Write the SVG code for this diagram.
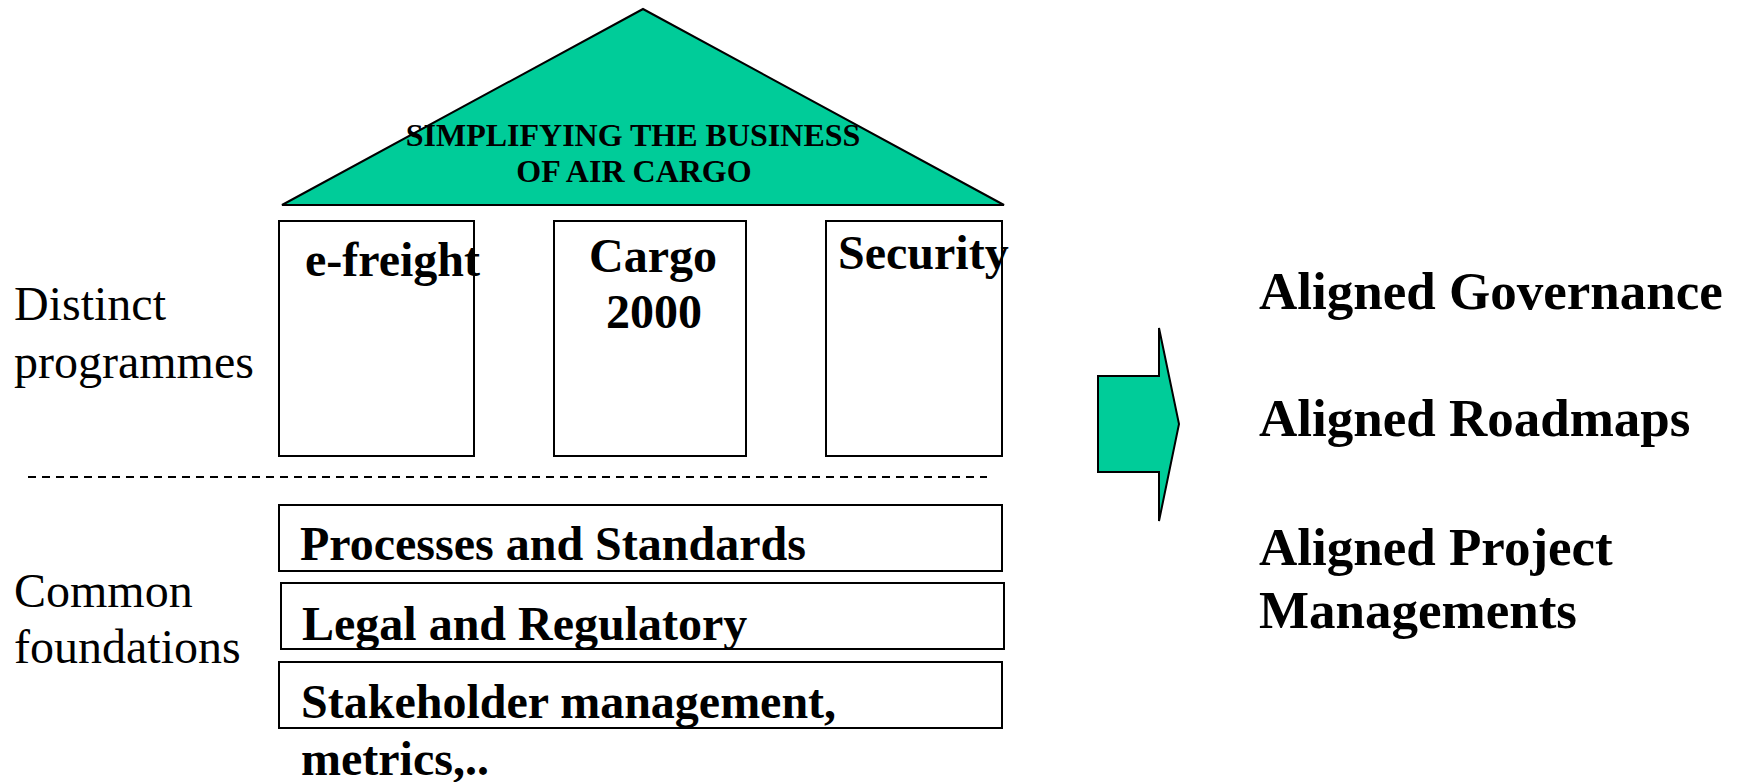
<svg xmlns="http://www.w3.org/2000/svg" width="1743" height="782" viewBox="0 0 1743 782">
<style>
  .box { fill: #ffffff; stroke: #000000; stroke-width: 2; }
  .green { fill: #00CC99; stroke: #000000; stroke-width: 2; stroke-linejoin: miter; }
  .b { font-family: "Liberation Serif", "Times New Roman", serif; font-weight: bold; fill: #000000; }
  .r { font-family: "Liberation Serif", "Times New Roman", serif; fill: #000000; font-size: 48px; }
  .t48 { font-size: 48px; }
  .t53 { font-size: 53px; }
  .t32 { font-size: 32px; }
</style>
<rect width="1743" height="782" fill="#ffffff"/>

<g id="roof">
  <polygon class="green" points="643,9 282,205 1004,205"/>
  <text class="b t32" x="633" y="146" text-anchor="middle">SIMPLIFYING THE BUSINESS</text>
  <text class="b t32" x="634" y="182" text-anchor="middle">OF AIR CARGO</text>
</g>

<g id="pillar-efreight">
  <rect class="box" x="279" y="221" width="195" height="235"/>
  <text class="b t48" x="305" y="276">e-freight</text>
</g>
<g id="pillar-cargo2000">
  <rect class="box" x="554" y="221" width="192" height="235"/>
  <text class="b t48" x="653" y="272" text-anchor="middle">Cargo</text>
  <text class="b t48" x="654" y="328" text-anchor="middle">2000</text>
</g>
<g id="pillar-security">
  <rect class="box" x="826" y="221" width="176" height="235"/>
  <text class="b t48" x="838" y="269">Security</text>
</g>

<g id="label-distinct">
  <text class="r" x="14" y="320">Distinct</text>
  <text class="r" x="14" y="378">programmes</text>
</g>

<g id="divider">
  <line x1="28" y1="477" x2="987" y2="477" stroke="#000000" stroke-width="2" stroke-dasharray="8,6"/>
</g>

<g id="found-processes">
  <rect class="box" x="279" y="505" width="723" height="66"/>
  <text class="b t48" x="300" y="560">Processes and Standards</text>
</g>
<g id="found-legal">
  <rect class="box" x="281" y="583" width="723" height="66"/>
  <text class="b t48" x="302" y="640">Legal and Regulatory</text>
</g>
<g id="found-stakeholder">
  <rect class="box" x="279" y="662" width="723" height="66"/>
  <text class="b t48" x="301" y="718">Stakeholder management,</text>
  <text class="b t48" x="301" y="775">metrics,..</text>
</g>

<g id="label-common">
  <text class="r" x="14" y="607">Common</text>
  <text class="r" x="14" y="663">foundations</text>
</g>

<g id="connectors">
  <polygon class="green" points="1098,376 1159,376 1159,328 1179,424 1159,521 1159,472 1098,472"/>
</g>

<g id="outcomes">
  <text class="b t53" x="1259" y="309">Aligned Governance</text>
  <text class="b t53" x="1259" y="436">Aligned Roadmaps</text>
  <text class="b t53" x="1259" y="565">Aligned Project</text>
  <text class="b t53" x="1259" y="628">Managements</text>
</g>
</svg>
